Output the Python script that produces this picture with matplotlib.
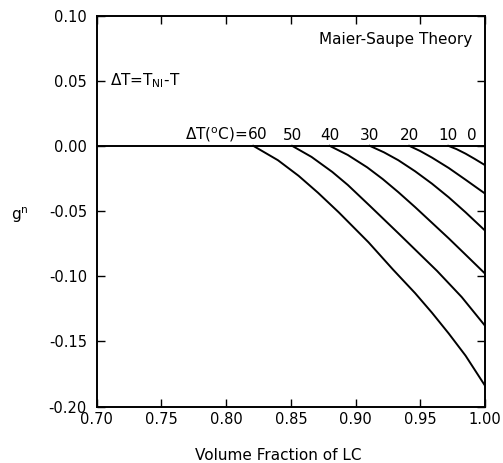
import matplotlib
matplotlib.use("Agg")
import matplotlib.pyplot as plt

plt.rcParams['font.family'] = ['DejaVu Sans']
plt.rcParams['mathtext.fontset'] = 'dejavusans'

# ---- data ----
dT_labels = ["60", "50", "40", "30", "20", "10", "0"]

x60 = [0.821, 0.840, 0.856, 0.871, 0.887, 0.900, 0.910, 0.929, 0.946, 0.959, 0.972, 0.985, 1.000]
y60 = [0.000, -0.011, -0.023, -0.036, -0.051, -0.064, -0.074, -0.095, -0.113, -0.128, -0.144, -0.161, -0.184]

x50 = [0.851, 0.866, 0.882, 0.894, 0.911, 0.933, 0.963, 0.982, 1.000]
y50 = [0.000, -0.0085, -0.020, -0.030, -0.046, -0.067, -0.096, -0.116, -0.138]

x40 = [0.880, 0.894, 0.909, 0.921, 0.933, 0.946, 0.959, 0.972, 0.985, 1.000]
y40 = [0.000, -0.007, -0.0165, -0.0255, -0.0355, -0.047, -0.059, -0.071, -0.0835, -0.098]

x30 = [0.911, 0.922, 0.933, 0.946, 0.959, 0.972, 0.985, 1.000]
y30 = [0.000, -0.005, -0.011, -0.0195, -0.029, -0.0395, -0.051, -0.065]

x20 = [0.9415, 0.950, 0.959, 0.972, 0.985, 1.000]
y20 = [0.000, -0.004, -0.009, -0.017, -0.026, -0.0366]

x10 = [0.9717, 0.978, 0.985, 0.992, 1.000]
y10 = [0.000, -0.0025, -0.006, -0.010, -0.0148]

x0 = [0.70, 1.00]
y0 = [0.0, 0.0]

xticks = [0.70, 0.75, 0.80, 0.85, 0.90, 0.95, 1.00]
yticks = [-0.20, -0.15, -0.10, -0.05, 0.00, 0.05, 0.10]

# ---- figure ----
fig = plt.figure(figsize=(5.03, 4.63), dpi=100)
ax = fig.add_axes([0.1922, 0.1220, 0.9642 - 0.1922, 0.9665 - 0.1220])

curves = [(x60, y60), (x50, y50), (x40, y40), (x30, y30), (x20, y20), (x10, y10)]
ax.plot(x0, y0, color='black', lw=1.4)
for xs, ys in curves:
    ax.plot(xs, ys, color='black', lw=1.4)

ax.set_xlim(0.70, 1.00)
ax.set_ylim(-0.20, 0.10)
ax.set_xticks(xticks)
ax.set_yticks(yticks)
ax.set_xticklabels([f"{v:.2f}" for v in xticks])
ax.set_yticklabels([f"{v:.2f}" for v in yticks])
ax.tick_params(direction='in', top=True, right=True, length=6, width=1.0,
               labelsize=10.5, pad=4)
ax.tick_params(axis='y', pad=7)
for sp in ax.spines.values():
    sp.set_linewidth(1.4)

ax.set_xlabel("Volume Fraction of LC", fontsize=11)
ax.xaxis.set_label_coords(0.467, -0.105)
ax.set_ylabel(r"g$^{\mathrm{n}}$", fontsize=11, rotation=0, ha='center', va='center')
ax.yaxis.set_label_coords(-0.1975, 0.49)

# curve labels
label_fs = 11
label_y = 0.0045
onsets = [c[0][0] for c in curves]
ax.text(onsets[0] + 0.011, label_y, r"$\Delta$T($^{\mathrm{o}}$C)=" + dT_labels[0],
        ha='right', va='baseline', fontsize=label_fs)
for lab, xo in zip(dT_labels[1:6], onsets[1:]):
    ax.text(xo, label_y, lab, ha='center', va='baseline', fontsize=label_fs)
ax.text(0.990, label_y, dT_labels[6], ha='center', va='baseline', fontsize=label_fs)

ax.text(0.990, 0.0813, "Maier-Saupe Theory", ha='right', va='center', fontsize=label_fs)
ax.text(0.7103, 0.050, r"$\Delta$T=T$_{\mathrm{NI}}$-T", ha='left', va='center', fontsize=label_fs)

fig.savefig("out.png", dpi=100)
